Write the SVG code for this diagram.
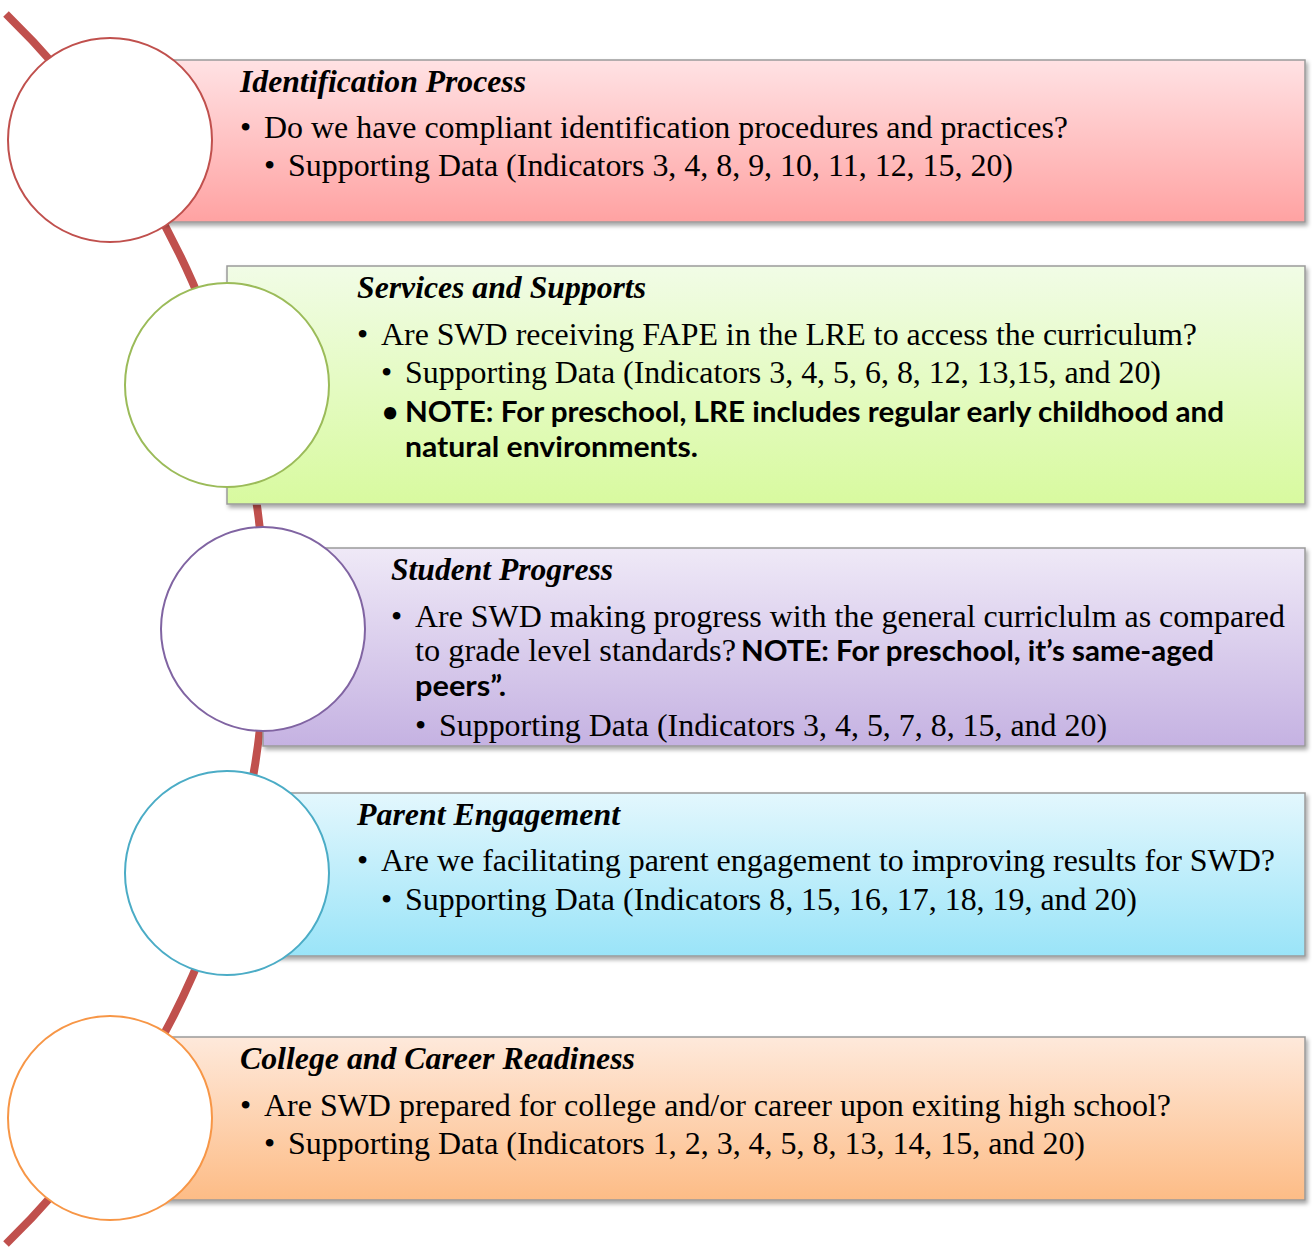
<svg xmlns="http://www.w3.org/2000/svg" width="1312" height="1251" viewBox="0 0 1312 1251">
<style>
.box{stroke:#9a9a9a;stroke-width:1.5;filter:url(#sh)}
.circ{fill:#ffffff;stroke-width:2}
.t{font-family:"Liberation Serif","Times New Roman",serif;font-size:32px;fill:#000}
.ti{font-family:"Liberation Serif","Times New Roman",serif;font-size:31px;font-weight:bold;font-style:italic;fill:#000}
.b{font-family:Lato,"Open Sans",sans-serif;font-size:28px;font-weight:bold;fill:#000}
.arc{fill:none;stroke:#C0504D;stroke-width:8}
</style>
<defs>
<filter id="sh" x="-5%" y="-10%" width="115%" height="130%">
<feDropShadow dx="2" dy="3" stdDeviation="2" flood-color="#000" flood-opacity="0.35"/>
</filter>
<linearGradient id="g1" x1="0" y1="0" x2="0" y2="1"><stop offset="0" stop-color="#FFE2E4"/><stop offset="1" stop-color="#FFA2A2"/></linearGradient>
<linearGradient id="g2" x1="0" y1="0" x2="0" y2="1"><stop offset="0" stop-color="#F1FCE6"/><stop offset="1" stop-color="#D8FA9F"/></linearGradient>
<linearGradient id="g3" x1="0" y1="0" x2="0" y2="1"><stop offset="0" stop-color="#EFE9F7"/><stop offset="1" stop-color="#C5B2E2"/></linearGradient>
<linearGradient id="g4" x1="0" y1="0" x2="0" y2="1"><stop offset="0" stop-color="#E3F7FD"/><stop offset="1" stop-color="#9AE4F8"/></linearGradient>
<linearGradient id="g5" x1="0" y1="0" x2="0" y2="1"><stop offset="0" stop-color="#FEE9DB"/><stop offset="1" stop-color="#FDBC86"/></linearGradient>
</defs>
<g id="connectors">
<path class="arc" d="M 6 14 A 858 858 0 0 1 6 1244"/>
</g>
<g id="node1">
<rect class="box" x="110" y="60" width="1195" height="162" fill="url(#g1)"/>
<circle class="circ" cx="110" cy="140" r="102" stroke="#C0504D"/>
<text class="ti" x="240" y="92" textLength="286" lengthAdjust="spacingAndGlyphs">Identification Process</text>
<text class="t" x="240" y="138">•</text>
<text class="t" x="264" y="138" textLength="804" lengthAdjust="spacingAndGlyphs">Do we have compliant identification procedures and practices?</text>
<text class="t" x="264" y="176">•</text>
<text class="t" x="288" y="176" textLength="725" lengthAdjust="spacingAndGlyphs">Supporting Data (Indicators 3, 4, 8, 9, 10, 11, 12, 15, 20)</text>
</g>
<g id="node2">
<rect class="box" x="227" y="266" width="1078" height="238" fill="url(#g2)"/>
<circle class="circ" cx="227" cy="385" r="102" stroke="#9BBB59"/>
<text class="ti" x="357" y="298" textLength="289" lengthAdjust="spacingAndGlyphs">Services and Supports</text>
<text class="t" x="357" y="345">•</text>
<text class="t" x="381" y="345" textLength="816" lengthAdjust="spacingAndGlyphs">Are SWD receiving FAPE in the LRE to access the curriculum?</text>
<text class="t" x="381" y="383">•</text>
<text class="t" x="405" y="383" textLength="756" lengthAdjust="spacingAndGlyphs">Supporting Data (Indicators 3, 4, 5, 6, 8, 12, 13,15, and 20)</text>
<text class="b" x="382" y="422">•</text>
<text class="b" x="405" y="422" textLength="819" lengthAdjust="spacingAndGlyphs">NOTE: For preschool, LRE includes regular early childhood and</text>
<text class="b" x="405" y="457" textLength="293" lengthAdjust="spacingAndGlyphs">natural environments.</text>
</g>
<g id="node3">
<rect class="box" x="263" y="548" width="1042" height="198" fill="url(#g3)"/>
<circle class="circ" cx="263" cy="629" r="102" stroke="#8064A2"/>
<text class="ti" x="391" y="580" textLength="222" lengthAdjust="spacingAndGlyphs">Student Progress</text>
<text class="t" x="391" y="627">•</text>
<text class="t" x="415" y="627" textLength="870" lengthAdjust="spacingAndGlyphs">Are SWD making progress with the general curriclulm as compared</text>
<text class="t" x="415" y="661" textLength="321" lengthAdjust="spacingAndGlyphs">to grade level standards?</text>
<text class="b" x="741" y="661" textLength="473" lengthAdjust="spacingAndGlyphs">NOTE: For preschool, it’s same-aged</text>
<text class="b" x="415" y="696" textLength="91" lengthAdjust="spacingAndGlyphs">peers”.</text>
<text class="t" x="415" y="736">•</text>
<text class="t" x="439" y="736" textLength="668" lengthAdjust="spacingAndGlyphs">Supporting Data (Indicators 3, 4, 5, 7, 8, 15, and 20)</text>
</g>
<g id="node4">
<rect class="box" x="227" y="793" width="1078" height="163" fill="url(#g4)"/>
<circle class="circ" cx="227" cy="873" r="102" stroke="#4BACC6"/>
<text class="ti" x="357" y="825" textLength="263" lengthAdjust="spacingAndGlyphs">Parent Engagement</text>
<text class="t" x="357" y="871">•</text>
<text class="t" x="381" y="871" textLength="894" lengthAdjust="spacingAndGlyphs">Are we facilitating parent engagement to improving results for SWD?</text>
<text class="t" x="381" y="910">•</text>
<text class="t" x="405" y="910" textLength="732" lengthAdjust="spacingAndGlyphs">Supporting Data (Indicators 8, 15, 16, 17, 18, 19, and 20)</text>
</g>
<g id="node5">
<rect class="box" x="110" y="1037" width="1195" height="163" fill="url(#g5)"/>
<circle class="circ" cx="110" cy="1118" r="102" stroke="#F79646"/>
<text class="ti" x="240" y="1069" textLength="395" lengthAdjust="spacingAndGlyphs">College and Career Readiness</text>
<text class="t" x="240" y="1116">•</text>
<text class="t" x="264" y="1116" textLength="907" lengthAdjust="spacingAndGlyphs">Are SWD prepared for college and/or career upon exiting high school?</text>
<text class="t" x="264" y="1154">•</text>
<text class="t" x="288" y="1154" textLength="797" lengthAdjust="spacingAndGlyphs">Supporting Data (Indicators 1, 2, 3, 4, 5, 8, 13, 14, 15, and 20)</text>
</g>
</svg>
